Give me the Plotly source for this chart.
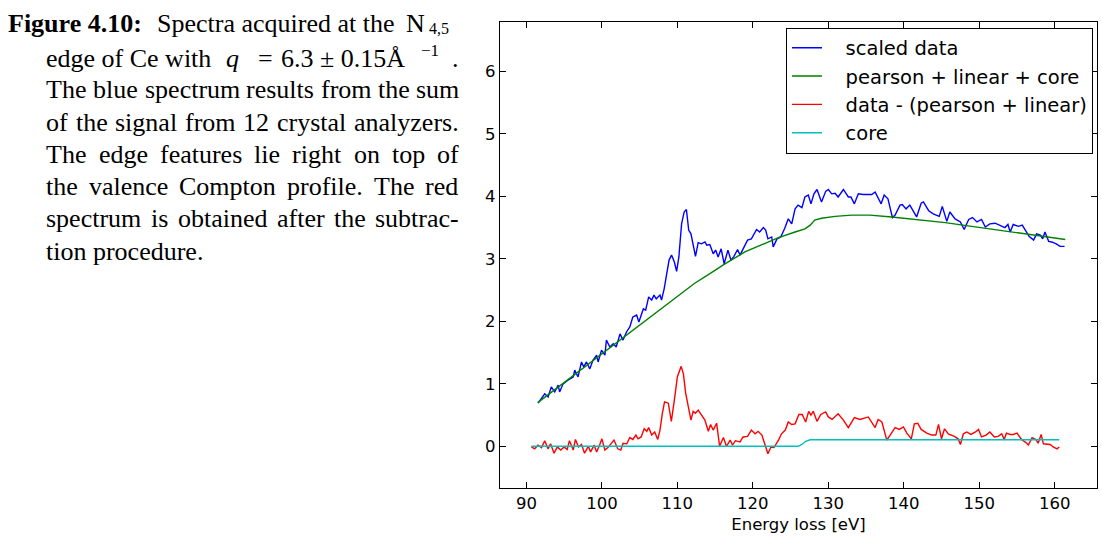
import plotly.graph_objects as go

# ---------------- data ----------------
blue_x = [91.54, 92.43, 92.87, 93.3, 93.75, 94.2, 94.4, 94.86, 95.5, 96.2, 96.4, 96.84,
          97.3, 97.6, 97.96, 98.4, 98.83, 99.3, 99.5, 99.95, 100.4, 100.6, 101.05, 101.5,
          101.9, 102.4, 102.8, 103.26, 103.7, 104.1, 104.6, 104.9, 105.5, 105.8, 106.2,
          106.6, 106.9, 107.2, 107.7, 107.9, 108.25, 108.57, 108.9, 109.23, 109.6, 109.9,
          110.2, 110.56, 110.9, 111.2, 111.5, 111.8, 112.1, 112.4, 112.76, 113.2, 113.65,
          113.9, 114.3, 114.75, 115.07, 115.4, 115.8, 116.2, 116.7, 117.1, 117.5, 117.98,
          118.3, 118.9, 119.3, 119.8, 120.5, 120.9, 121.4, 121.7, 122.0, 122.5, 122.7,
          123.2, 123.7, 124.2, 124.7, 125.15, 125.6, 126.0, 126.5, 126.9, 127.35, 127.7,
          128.1, 128.5, 128.8, 129.1, 129.65, 130.0, 130.45, 130.9, 131.3, 132.0, 132.65,
          133.0, 133.45, 133.98, 134.6, 135.75, 136.2, 137.0, 137.4, 137.9, 138.5, 138.85,
          139.5, 139.8, 140.3, 140.8, 141.7, 142.3, 142.6, 143.3, 143.9, 144.7, 145.1,
          145.7, 146.1, 146.8, 147.5, 148.0, 148.6, 149.1, 149.7, 150.3, 150.8, 151.4,
          152.1, 152.6, 153.4, 153.8, 154.1, 154.5, 155.2, 155.7, 156.1, 156.6, 157.2,
          157.6, 158.1, 158.4, 158.7, 159.2, 159.6, 160.2, 160.7, 161.3]
blue_y = [0.69, 0.84, 0.79, 0.95, 0.87, 0.98, 0.87, 1.00, 1.06, 1.11, 1.22, 1.11,
          1.35, 1.27, 1.35, 1.24, 1.38, 1.46, 1.35, 1.54, 1.46, 1.70, 1.59, 1.64,
          1.59, 1.80, 1.70, 1.83, 1.91, 2.07, 2.10, 1.99, 2.20, 2.18, 2.39,
          2.34, 2.42, 2.36, 2.42, 2.34, 2.52, 2.74, 2.98, 3.06, 2.95, 2.80,
          3.03, 3.56, 3.75, 3.79, 3.46, 3.40, 3.22, 3.04, 3.26, 3.24, 3.27,
          3.22, 3.23, 3.08, 3.14, 3.03, 3.16, 2.92, 3.14, 2.98, 3.04, 3.15,
          3.06, 3.19, 3.30, 3.32, 3.47, 3.43, 3.50, 3.46, 3.32, 3.35, 3.19,
          3.32, 3.35, 3.48, 3.64, 3.56, 3.80, 3.86, 3.82, 3.99, 4.02, 3.88,
          4.04, 4.11, 3.99, 3.91, 4.08, 4.11, 4.04, 4.05, 3.99, 4.11, 3.99,
          3.99, 3.88, 4.04, 4.03, 4.03, 4.07, 3.88, 4.02, 3.96, 3.66, 3.70,
          3.86, 3.87, 3.80, 3.86, 3.67, 3.89, 3.91, 3.77, 3.72, 3.68, 3.84,
          3.60, 3.75, 3.64, 3.59, 3.47, 3.63, 3.66, 3.59, 3.63, 3.51, 3.56,
          3.57, 3.54, 3.50, 3.55, 3.43, 3.55, 3.52, 3.54, 3.46, 3.36, 3.30,
          3.40, 3.38, 3.32, 3.43, 3.28, 3.27, 3.24, 3.20, 3.20]

green_x = [91.5, 95.0, 100.0, 105.0, 108.0, 110.0, 112.3, 114.0, 116.3, 118.95, 121.2,
           123.4, 125.6, 126.9, 127.6, 128.2, 129.1, 130.9, 133.1, 135.5, 138.4, 141.9,
           145.5, 149.0, 152.55, 156.1, 159.6, 161.4]
green_y = [0.70, 1.02, 1.48, 1.94, 2.22, 2.40, 2.61, 2.74, 2.92, 3.11, 3.23,
           3.34, 3.43, 3.48, 3.54, 3.62, 3.65, 3.68, 3.70, 3.70, 3.67, 3.63,
           3.58, 3.52, 3.46, 3.39, 3.33, 3.31]

red_x = [90.66, 91.1, 91.54, 91.99, 92.43, 92.86, 93.2, 93.66, 94.1, 94.55, 95.0, 95.4,
         95.7, 96.2, 96.5, 96.9, 97.3, 97.7, 98.2, 98.5, 98.97, 99.3, 99.7, 100.0, 100.4,
         100.8, 101.2, 101.6, 102.1, 102.5, 102.8, 103.3, 103.7, 104.1, 104.5, 104.8,
         105.2, 105.6, 105.95, 106.2, 106.6, 107.0, 107.4, 107.7, 108.0, 108.3, 108.8,
         109.2, 109.6, 110.0, 110.5, 110.8, 111.1, 111.4, 111.8, 112.1, 112.4, 112.76,
         113.2, 113.65, 114.1, 114.4, 114.75, 115.2, 115.6, 116.1, 116.5, 117.0, 117.3,
         117.7, 118.3, 118.7, 119.3, 119.8, 120.3, 120.7, 121.2, 121.6, 122.0, 122.4,
         122.8, 123.4, 123.8, 124.3, 124.7, 125.15, 125.6, 126.1, 126.55, 127.0, 127.4,
         127.7, 128.0, 128.5, 129.0, 129.65, 130.0, 130.5, 131.3, 132.0, 132.65, 133.45,
         134.2, 135.3, 135.75, 136.2, 136.6, 137.1, 137.75, 138.4, 138.85, 139.4, 139.95,
         140.4, 141.0, 141.4, 141.85, 142.3, 143.05, 143.7, 144.25, 144.6, 145.0, 145.4,
         145.9, 146.7, 147.2, 147.5, 147.9, 148.35, 148.9, 149.5, 149.9, 150.3, 150.9,
         151.4, 152.0, 152.5, 152.98, 153.3, 153.6, 154.1, 154.5, 155.0, 155.6, 156.3,
         156.5, 157.0, 157.5, 157.8, 158.2, 158.5, 159.0, 159.4, 159.8, 160.3, 160.6]
red_y = [-0.01, -0.04, 0.02, -0.02, 0.09, -0.04, 0.04, -0.11, -0.01, -0.06, -0.01, -0.05,
         0.09, -0.06, 0.11, -0.01, 0.03, -0.11, 0.00, -0.09, 0.02, -0.09, 0.02, 0.12, -0.06,
         -0.02, 0.04, 0.10, -0.04, -0.06, 0.05, 0.04, 0.14, 0.11, 0.18, 0.12,
         0.15, 0.28, 0.24, 0.30, 0.18, 0.23, 0.11, 0.26, 0.52, 0.71, 0.69,
         0.40, 0.74, 1.11, 1.28, 1.16, 0.85, 0.68, 0.42, 0.56, 0.53, 0.58,
         0.51, 0.42, 0.24, 0.35, 0.26, 0.37, 0.00, 0.14, 0.00, 0.10, 0.02,
         0.09, 0.07, 0.15, 0.16, 0.26, 0.20, 0.24, 0.18, 0.04, -0.12, -0.01,
         -0.02, 0.10, 0.20, 0.26, 0.39, 0.35, 0.36, 0.51, 0.51, 0.39, 0.56,
         0.50, 0.56, 0.40, 0.51, 0.55, 0.47, 0.43, 0.52, 0.42, 0.30, 0.46,
         0.43, 0.47, 0.39, 0.30, 0.43, 0.39, 0.10, 0.21, 0.30, 0.27, 0.31,
         0.21, 0.12, 0.36, 0.37, 0.27, 0.21, 0.18, 0.18, 0.35, 0.12, 0.28,
         0.20, 0.16, 0.12, 0.03, 0.20, 0.23, 0.19, 0.23, 0.27, 0.15, 0.18,
         0.23, 0.15, 0.16, 0.20, 0.11, 0.21, 0.19, 0.19, 0.21, 0.11, 0.05,
         0.02, 0.14, 0.11, 0.05, 0.19, 0.04, 0.03, 0.03, -0.01, -0.04, -0.01]

core_x = [90.66, 126.0, 126.5, 127.0, 127.6, 160.6]
core_y = [0.0, 0.0, 0.03, 0.08, 0.105, 0.105]

series_names = ["scaled data", "pearson + linear + core",
                "data - (pearson + linear)", "core"]
series_colors = ["#0000ff", "#008000", "#ff0000", "#00bfbf"]

x_ticks = [90, 100, 110, 120, 130, 140, 150, 160]
y_ticks = [0, 1, 2, 3, 4, 5, 6]
x_title = "Energy loss [eV]"

caption_justified = [
    "The blue spectrum results from the sum",
    "of the signal from 12 crystal analyzers.",
    "The edge features lie right on top of",
    "the valence Compton profile. The red",
    "spectrum is obtained after the subtrac-",
]
caption_last = "tion procedure."

# ---------------- figure ----------------
W, H = 1102, 536
L, R, T, B = 500.4, 1097.0, 22.0, 488.0


def pp(px, py):
    return (px - L) / (R - L), (B - py) / (B - T)


fig = go.Figure()
for xs, ys, name, col in zip([blue_x, green_x, red_x, core_x],
                             [blue_y, green_y, red_y, core_y],
                             series_names, series_colors):
    fig.add_trace(go.Scatter(x=xs, y=ys, mode="lines", name="\u00a0\u00a0\u00a0" + name,
                             legendgroup=name, line=dict(color=col, width=1.4)))

serif = "Liberation Serif, Times New Roman, serif"
FS = 26
ann = []


def text(px, py, s, size=FS, anchor="left", fam=serif):
    x, y = pp(px, py)
    ann.append(dict(x=x, y=y, xref="paper", yref="paper", text=s, showarrow=False,
                    xanchor=anchor, yanchor="middle", borderpad=0,
                    font=dict(family=fam, size=size, color="black")))


# approximate Times advance widths (per em) for justified placement of words
TW = dict(zip("abcdefghijklmnopqrstuvwxyz",
              [.444, .5, .444, .5, .444, .333, .5, .5, .278, .278, .5, .278, .778,
               .5, .5, .5, .5, .333, .389, .278, .5, .5, .722, .5, .5, .444]))
TW.update({"T": .611, "C": .667, ".": .25, "-": .333, "1": .5, "2": .5, ",": .25})


def wwidth(w):
    return sum(TW.get(c, .5) for c in w) * FS


LEFT, RIGHT = 46.0, 458.0
text(8, 23, "<b>Figure 4.10:</b>")
text(157, 23, "Spectra acquired at the")
text(405, 23, "N")
text(428, 29, "4,5", size=16)
text(420, 50, "−1", size=17)
text(46, 58, "edge of Ce with")
text(226, 58, "<i>q</i>")
text(258, 58, "=")
text(281, 58, "6.3 ± 0.15Å")
text(451, 58, ".")
for i, line in enumerate(caption_justified):
    yy = 90 + 32.2 * i
    words = line.split(" ")
    widths = [wwidth(w) for w in words]
    gap = max((RIGHT - LEFT - sum(widths)) / (len(words) - 1), 0.25 * FS)
    xx = LEFT
    for w, wd in zip(words, widths):
        text(xx, yy, w)
        xx += wd + gap
text(LEFT, 90 + 32.2 * 5, caption_last)

fig.update_layout(
    width=W, height=H,
    margin=dict(l=L, r=W - R, t=T, b=H - B, pad=0),
    paper_bgcolor="white", plot_bgcolor="white",
    font=dict(family="DejaVu Sans", size=16, color="black"),
    annotations=ann,
    showlegend=True,
    legend=dict(x=pp(1093, 0)[0], y=pp(0, 27.5)[1], xanchor="right", yanchor="top",
                bgcolor="white", bordercolor="black", borderwidth=1,
                font=dict(family="DejaVu Sans", size=19.5, color="black"),
                tracegroupgap=0, itemwidth=30),
    xaxis=dict(range=[86.5, 165.6], tickvals=x_ticks, ticktext=[str(v) for v in x_ticks],
               ticks="inside", ticklen=6, tickcolor="black", showline=True, linecolor="black",
               linewidth=1.3, mirror="ticks", showgrid=False, zeroline=False,
               tickfont=dict(size=16.5),
               title=dict(text=x_title, font=dict(size=16.5), standoff=6)),
    yaxis=dict(range=[-0.667, 6.79], tickvals=y_ticks, ticktext=[str(v) for v in y_ticks],
               ticks="inside", ticklen=6, tickcolor="black", showline=True, linecolor="black",
               linewidth=1.3, mirror="ticks", showgrid=False, zeroline=False,
               tickfont=dict(size=16.5)),
)

fig.write_html("out.html")
